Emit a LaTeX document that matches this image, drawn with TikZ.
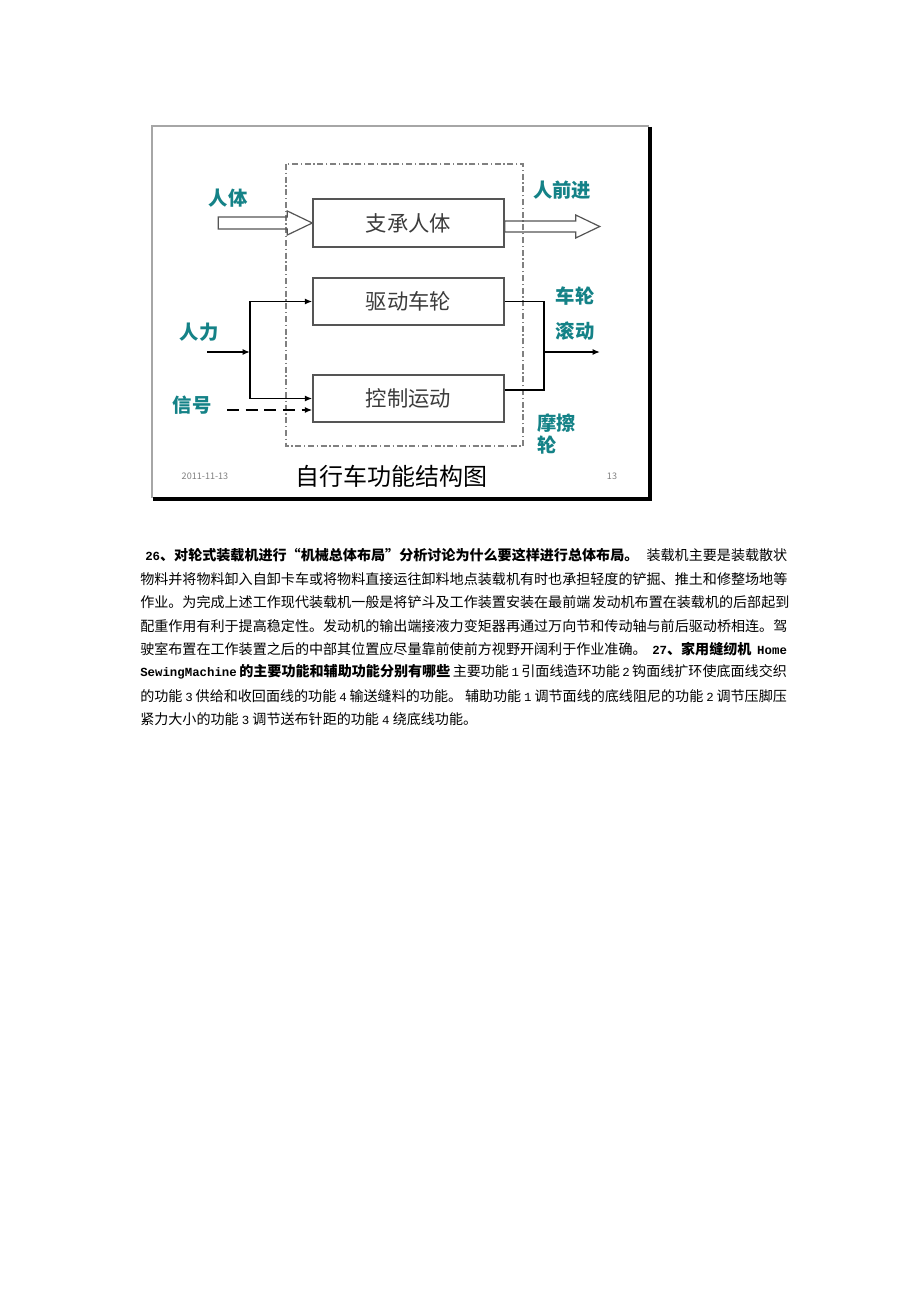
\documentclass[tikz,border=0pt]{standalone}
\usepackage{fontspec}
\setmainfont{Noto Sans CJK SC}
\newfontfamily\latmono{Liberation Mono}[Scale=0.88]
\usetikzlibrary{arrows.meta}
\XeTeXlinebreaklocale "zh"
\XeTeXlinebreakskip=0pt plus 1pt
\definecolor{tealtxt}{RGB}{20,130,135}
\definecolor{boxgray}{RGB}{85,85,85}
\definecolor{txtgray}{RGB}{60,60,60}
\tikzset{
    funcbox/.style={draw=boxgray, line width=1.3pt, minimum width=143pt,
        minimum height=35.5pt, inner sep=0pt, text=txtgray,
        font=\fontsize{16}{18}\selectfont},
    flabel/.style={text=tealtxt, inner sep=0pt,
        font=\fontsize{14.5}{17}\selectfont\bfseries},
    conn/.style={line width=1.3pt, -{Latex[length=5.5pt,width=4.5pt]}},
    wire/.style={line width=1.3pt},
    hollow/.style={draw=boxgray, line width=0.9pt, line join=miter},
    sysline/.style={draw=gray, line width=0.9pt,
        dash pattern=on 4.5pt off 2pt on 1pt off 2pt},
    textline/.style={anchor=west, inner sep=0pt,
        font=\fontsize{10.55}{12}\selectfont}
}

\begin{document}
\begin{tikzpicture}[x=0.75pt,y=-0.75pt]
    % page
    \fill[white] (0,0) rectangle (920,1302);
    \useasboundingbox (0,0) rectangle (920,1302);

    % slide frame with shadow
    \draw[gray!70, line width=1pt] (152,498) -- (152,126) -- (649,126);
    \draw[black, line width=3pt] (650,127) -- (650,499) -- (153,499);

    % system boundary
    \draw[sysline] (286,164) rectangle (523,446);

    % function boxes
    \node[funcbox] (support) at (408.5,223) {支承人体};
    \node[funcbox] (drive) at (408.5,301.5) {驱动车轮};
    \node[funcbox] (control) at (408.5,398.5) {控制运动};

    % hollow arrows: body in, man forward out
    \draw[hollow] (support.west) -- ++(-25,-12) -- ++(0,6) -- ++(-69,0)
        -- ++(0,12) -- ++(69,0) -- ++(0,6) -- cycle;
    \draw[hollow] (support.east) ++(0,-2) -- ++(71,0) -- ++(0,-6)
        -- ++(24,11.5) -- ++(-24,11.5) -- ++(0,-6) -- ++(-71,0) -- cycle;

    % man power splits to both boxes
    \coordinate (man-in) at (207,352);
    \coordinate (split) at (250,352);
    \draw[conn] (man-in) -- (split);
    \draw[conn] (split) |- (drive.west);
    \draw[conn] (split) |- (control.west);

    % signal
    \coordinate (sig-in) at (227,410);
    \draw[conn, dash pattern=on 9pt off 5pt] (sig-in) -- (sig-in -| control.west);

    % outputs merge to wheel rolling
    \coordinate (merge) at (544,352);
    \coordinate (roll-out) at (600,352);
    \draw[wire] (drive.east) -| (merge);
    \draw[wire] ([yshift=6.4pt]control.east) -| (merge);
    \draw[conn] (merge) -- (roll-out);

    % flow labels
    \node[flabel] (body-in) at (228,198) {人体};
    \node[flabel] (walk) at (562,190) {人前进};
    \node[flabel] (wheel) at (575,296) {车轮};
    \node[flabel] (roll) at (575,331) {滚动};
    \node[flabel] (man) at (199,332) {人力};
    \node[flabel] (signal) at (192,405) {信号};
    \node[flabel, anchor=west, align=left] (friction) at (537,434) {摩擦\\轮};

    % slide footer
    \node[font=\fontsize{18}{20}\selectfont, inner sep=0pt] (title) at (391.5,476) {自行车功能结构图};
    \node[font=\fontsize{6.8}{8}\selectfont, text=gray, inner sep=0pt] (date) at (205,476) {2011-11-13};
    \node[font=\fontsize{6.8}{8}\selectfont, text=gray, inner sep=0pt] (pageno) at (612,476) {13};

    % text below the slide
    \node[textline] (t1) at (145,555) {\makebox[481.5pt][s]{\textbf{{\latmono 26}、对轮式装载机进行“机械总体布局”分析讨论为什么要这样进行总体布局。} 装载机主要是装载散状}};
    \node[textline] (t2) at (140,579) {\makebox[485pt][s]{物料并将物料卸入自卸卡车或将物料直接运往卸料地点装载机有时也承担轻度的铲掘、推土和修整场地等}};
    \node[textline] (t3) at (140,602) {\makebox[485pt][s]{作业。为完成上述工作现代装载机一般是将铲斗及工作装置安装在最前端 发动机布置在装载机的后部起到}};
    \node[textline] (t4) at (140,626) {\makebox[485pt][s]{配重作用有利于提高稳定性。发动机的输出端接液力变矩器再通过万向节和传动轴与前后驱动桥相连。驾}};
    \node[textline] (t5) at (140,649) {\makebox[485pt][s]{驶室布置在工作装置之后的中部其位置应尽量靠前使前方视野开阔利于作业准确。 \textbf{{\latmono 27}、家用缝纫机 {\latmono Home}}}};
    \node[textline] (t6) at (140,672) {\makebox[485pt][s]{\textbf{{\latmono SewingMachine} 的主要功能和辅助功能分别有哪些} 主要功能 {\latmono 1} 引面线造环功能 {\latmono 2} 钩面线扩环使底面线交织}};
    \node[textline] (t7) at (140,696) {\makebox[485pt][s]{的功能 {\latmono 3} 供给和收回面线的功能 {\latmono 4} 输送缝料的功能。 辅助功能 {\latmono 1} 调节面线的底线阻尼的功能 {\latmono 2} 调节压脚压}};
    \node[textline] (t8) at (140,719) {紧力大小的功能 {\latmono 3} 调节送布针距的功能 {\latmono 4} 绕底线功能。};
\end{tikzpicture}
\end{document}
